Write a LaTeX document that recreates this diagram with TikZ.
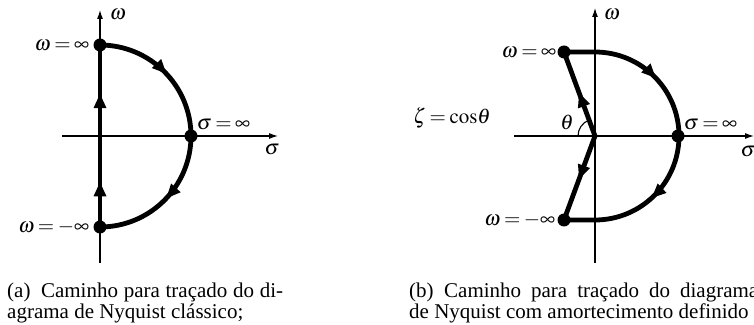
\documentclass[tikz,border=0pt]{standalone}
\usepackage{mathptmx}
\usepackage{fontspec}
\setmainfont{Liberation Serif}
\usetikzlibrary{arrows.meta,decorations.markings,positioning}

\begin{document}
\begin{tikzpicture}[x=1pt, y=1pt, >={Latex[length=9pt,width=6pt]}]

% Styles
\tikzset{
  point/.style={circle, fill, inner sep=0pt, minimum size=13pt},
  axis/.style={line width=1.1pt},
  contour/.style={line width=4.8pt, line join=round},
  flowat/.style={postaction={decorate, decoration={markings,
      mark=at position #1 with {\fill (1pt,0pt) -- (-13pt,6.5pt) -- (-13pt,-6.5pt) -- cycle;}}}},
  flowback/.style={postaction={decorate, decoration={markings,
      mark=at position #1 with {\fill (-1pt,0pt) -- (13pt,6.5pt) -- (13pt,-6.5pt) -- cycle;}}}},
  every node/.style={font=\fontsize{21}{23}\selectfont, inner sep=0pt}
}
\thickmuskip=3mu

\useasboundingbox (0,0) rectangle (754,324);

% ---------- (a) classic path ----------
\coordinate (O1) at (100,188);
\coordinate (w1s) at (100,61);
\coordinate (w1e) at (100,314);
\coordinate (s1s) at (62,188);
\coordinate (s1e) at (278,188);
\coordinate (T1) at (100,279);  % omega = +inf
\coordinate (B1) at (100,97);   % omega = -inf
\coordinate (S1) at (191,188);  % sigma = inf

% Axes
\draw[axis, ->] (w1s) -- (w1e);
\draw[axis, ->] (s1s) -- (s1e);
\node at (118,309) {$\omega$};
\node at (272,174) {$\sigma$};

% Imaginary axis and half circle
\draw[contour, flowat=0.24, flowat=0.725] (B1) -- (T1);
\draw[contour, flowat=0.256, flowat=0.736] (T1) arc[start angle=90, end angle=-90, radius=91];

% End points
\node[point] (top1) at (T1) {};
\node[point] (bot1) at (B1) {};
\node[point] (sig1) at (S1) {};
\node[left=4pt of top1] (ltop1) {$\omega=\infty$};
\node[left=4pt of bot1] (lbot1) {$\omega=-\infty$};
\node[right=-1pt of sig1, yshift=11pt] (lsig1) {$\sigma=\infty$};

% ---------- (b) path with damping ----------
\coordinate (O2) at (595,188);
\coordinate (w2s) at (595,61);
\coordinate (w2e) at (595,316);
\coordinate (s2s) at (514,188);
\coordinate (s2e) at (754,188);
\coordinate (T2) at (564,272);  % omega = +inf
\coordinate (B2) at (564,104);  % omega = -inf
\coordinate (S2) at (678,188);  % sigma = inf
\coordinate (Tc) at (595,272);
\coordinate (A2) at (578,188);  % start of theta arc

% Axes
\draw[axis, ->] (w2s) -- (w2e);
\draw[axis, ->] (s2s) -- (s2e);
\node at (612,309) {$\omega$};
\node at (748,172) {$\sigma$};

% Half circle and damping lines
\draw[contour, flowat=0.30, flowat=0.71] (T2) -- (Tc) arc[start angle=90, end angle=-90, radius=84] -- (B2);
\draw[contour, flowback=0.25, flowat=0.75] (B2) -- (O2) -- (T2);

% Angle
\draw[axis] (A2) arc[start angle=180, end angle=110, radius=17];
\node at (567,202) {$\theta$};
\node[font=\fontsize{21}{23}\selectfont] at (452,206) {$\zeta=\mathrm{cos}\theta$};

% End points
\node[point] (top2) at (T2) {};
\node[point] (bot2) at (B2) {};
\node[point] (sig2) at (S2) {};
\node[left=1pt of top2] (ltop2) {$\omega=\infty$};
\node[left=2pt of bot2] (lbot2) {$\omega=-\infty$};
\node[right=-1pt of sig2, yshift=11pt] (lsig2) {$\sigma=\infty$};

% ---------- Captions ----------
\node[anchor=base west] (capa1) at (7,27) {\makebox[276pt][s]{(a)\enspace Caminho para traçado do di-}};
\node[anchor=base west] (capa2) at (7,6) {agrama de Nyquist clássico;};
\node[anchor=base west] (capb1) at (409,27) {\makebox[349pt][s]{(b)\enspace Caminho para traçado do diagrama}};
\node[anchor=base west] (capb2) at (409,6) {de Nyquist com amortecimento definido};

\end{tikzpicture}
\end{document}
